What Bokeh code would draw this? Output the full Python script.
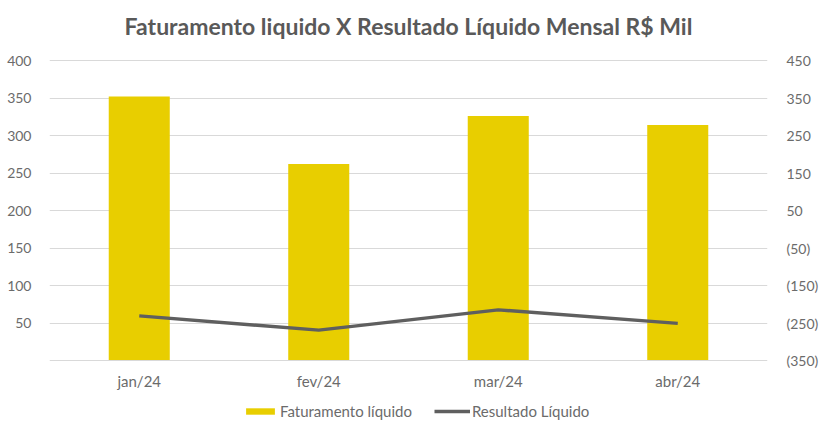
from bokeh.plotting import figure
from bokeh.models import (Range1d, LinearAxis, FixedTicker, CustomJSTickFormatter,
                          Legend, LegendItem, ColumnDataSource, FactorRange, Label)
from bokeh.embed import file_html
from bokeh.resources import INLINE

months = ["jan/24", "fev/24", "mar/24", "abr/24"]
faturamento = [352, 262, 326, 314]
resultado = [-231, -269, -215, -251]
left_ticks = [50, 100, 150, 200, 250, 300, 350, 400]
right_ticks = [450, 350, 250, 150, 50, -50, -150, -250, -350]
title_text = "Faturamento liquido X Resultado Líquido Mensal R$ Mil"

FONT = "Lato"
TXT = "#6b6b6b"
GRID = "#d9d9d9"
BAR = "#E8CE00"
LINE = "#5f5f5f"

W, H = 821, 422
PX = 0.75                 # pixels per left-axis unit (400 units over 300 px)
top_val = 400 + 60 / PX   # frame extends to top of canvas
bot_val = -(H - 360) / PX # frame extends to bottom of canvas

src = ColumnDataSource(dict(m=months, f=faturamento, r=resultado))

p = figure(x_range=FactorRange(*months), y_range=Range1d(bot_val, top_val),
           width=W, height=H,
           min_border_left=49, min_border_right=51, min_border_top=0, min_border_bottom=0,
           output_backend="svg", toolbar_location=None)

p.extra_y_ranges = {"right": Range1d(2 * bot_val - 350, 2 * top_val - 350)}

bars = p.vbar(x="m", top="f", bottom=0, width=0.34, source=src, fill_color=BAR, line_color=None)
line = p.line(x="m", y="r", source=src, y_range_name="right", line_color=LINE, line_width=3.5)

p.outline_line_color = None
p.xgrid.grid_line_color = None
p.ygrid.grid_line_color = GRID
p.ygrid.ticker = FixedTicker(ticks=left_ticks)

yax = p.yaxis[0]
yax.ticker = FixedTicker(ticks=left_ticks)
yax.axis_line_color = None
yax.major_tick_line_color = None
yax.minor_tick_line_color = None
yax.major_label_text_font = FONT
yax.major_label_text_font_size = "14px"
yax.major_label_text_color = TXT
yax.major_label_standoff = 12

rax = LinearAxis(y_range_name="right", ticker=FixedTicker(ticks=right_ticks),
                 formatter=CustomJSTickFormatter(code="return tick < 0 ? '(' + Math.abs(tick) + ')' : tick.toString();"))
rax.axis_line_color = None
rax.major_tick_line_color = None
rax.minor_tick_line_color = None
rax.major_label_text_font = FONT
rax.major_label_text_font_size = "14px"
rax.major_label_text_color = TXT
rax.major_label_standoff = 13
p.add_layout(rax, "right")

xax = p.xaxis[0]
xax.fixed_location = 0
xax.axis_line_color = GRID
xax.major_tick_line_color = None
xax.minor_tick_line_color = None
xax.major_tick_out = 0
xax.minor_tick_out = 0
xax.major_label_text_font = FONT
xax.major_label_text_font_size = "15px"
xax.major_label_text_color = TXT
xax.major_label_standoff = 11

title = Label(x=2.0, y=400 + 35 / PX, text=title_text, text_align="center", text_baseline="middle",
              text_font=FONT, text_font_size="23px", text_font_style="bold", text_color="#595959")
p.add_layout(title)

legend = Legend(items=[LegendItem(label="Faturamento líquido", renderers=[bars]),
                       LegendItem(label="Resultado Líquido", renderers=[line])],
                orientation="horizontal", location=(193, 2),
                glyph_width=36, glyph_height=8, label_standoff=2, spacing=22,
                label_text_font=FONT, label_text_font_size="15px", label_text_color=TXT,
                border_line_color=None, background_fill_alpha=0, padding=0, margin=0)
p.add_layout(legend, "center")

open("out.html", "w").write(file_html(p, INLINE))
